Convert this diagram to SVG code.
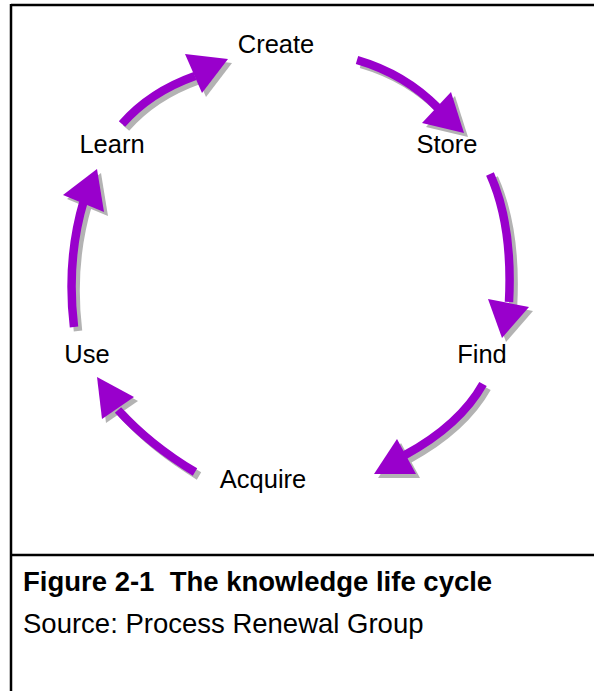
<svg xmlns="http://www.w3.org/2000/svg" xmlns:xlink="http://www.w3.org/1999/xlink" width="594" height="691" viewBox="0 0 594 691">
<style>
.frame{stroke:#000;stroke-width:2.5;fill:none}
.lbl{font-family:"Liberation Sans",Arial,sans-serif;font-size:25.5px;fill:#000;text-anchor:middle}
.cap{font-family:"Liberation Sans",Arial,sans-serif;font-size:27.5px;fill:#000}
.bold{font-weight:bold}
.shaft{fill:none;stroke-width:8.5;stroke-linecap:butt}
.head{stroke:none}
.shadow{fill:#b3b3b3;stroke:#b3b3b3}
.arrow{fill:#9900cc;stroke:#9900cc}
</style>
<defs>
<g id="a1"><path class="shaft" d="M122,124 Q150,92 195,76"/><polygon class="head" points="185,54 228,59 202,93"/></g>
<g id="a2"><path class="shaft" d="M357,60 Q405,74 438,108"/><polygon class="head" points="451,92 464,133 422,123"/></g>
<g id="a3"><path class="shaft" d="M490,174 Q513,225 509,302"/><polygon class="head" points="488,299 529,307 502,338"/></g>
<g id="a4"><path class="shaft" d="M483,384 Q460,425 405,455"/><polygon class="head" points="397,439 416,474 374,474"/></g>
<g id="a5"><path class="shaft" d="M195,472 Q150,445 118,410"/><polygon class="head" points="97,377 134,397 102,419"/></g>
<g id="a6"><path class="shaft" d="M74,327 Q66,260 84,200"/><polygon class="head" points="97,169 104,212 63,195"/></g>
</defs>
<g id="frame">
<line class="frame" x1="11" y1="5" x2="594" y2="5"/>
<line class="frame" x1="11" y1="4" x2="11" y2="691"/>
<line class="frame" x1="11" y1="555" x2="594" y2="555"/>
</g>
<g id="connectors">
<use xlink:href="#a1" class="shadow" transform="translate(4,4)"/>
<use xlink:href="#a2" class="shadow" transform="translate(4,4)"/>
<use xlink:href="#a3" class="shadow" transform="translate(4,4)"/>
<use xlink:href="#a4" class="shadow" transform="translate(4,4)"/>
<use xlink:href="#a5" class="shadow" transform="translate(4,4)"/>
<use xlink:href="#a6" class="shadow" transform="translate(4,4)"/>
<use xlink:href="#a1" class="arrow"/>
<use xlink:href="#a2" class="arrow"/>
<use xlink:href="#a3" class="arrow"/>
<use xlink:href="#a4" class="arrow"/>
<use xlink:href="#a5" class="arrow"/>
<use xlink:href="#a6" class="arrow"/>
</g>
<g id="node-create"><text class="lbl" x="276" y="53">Create</text></g>
<g id="node-store"><text class="lbl" x="447" y="153">Store</text></g>
<g id="node-find"><text class="lbl" x="482" y="363">Find</text></g>
<g id="node-acquire"><text class="lbl" x="263" y="488">Acquire</text></g>
<g id="node-use"><text class="lbl" x="87" y="363">Use</text></g>
<g id="node-learn"><text class="lbl" x="112" y="153">Learn</text></g>
<g id="caption">
<text class="cap bold" x="23" y="591" xml:space="preserve">Figure 2-1  The knowledge life cycle</text>
<text class="cap" x="23" y="633">Source: Process Renewal Group</text>
</g>
</svg>
